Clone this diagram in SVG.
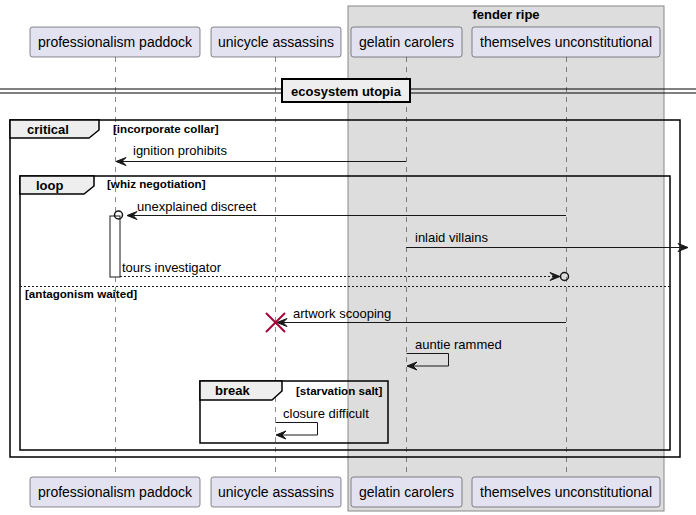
<svg xmlns="http://www.w3.org/2000/svg" width="696" height="515" viewBox="0 0 696 515">
<defs>
<style>
text{font-family:"Liberation Sans",Arial,sans-serif;fill:#000}
.pt{font-size:14px}
.msg{font-size:13px}
.grd{font-size:11.6px;font-weight:bold}
.lbl{font-size:13px;font-weight:bold}
.part{fill:#E2E2F0;stroke:#181818;stroke-width:0.5}
.life{stroke:#181818;stroke-width:0.5;stroke-dasharray:5,5}
.frame{fill:none;stroke:#000;stroke-width:1.5}
.tab{fill:#EEEEEE;stroke:#000;stroke-width:1.5}
.ln{stroke:#181818;stroke-width:1;fill:none}
.dash{stroke:#181818;stroke-width:1;stroke-dasharray:2,2;fill:none}
.head{fill:#181818;stroke:#181818;stroke-width:1}
.circ{fill:none;stroke:#181818;stroke-width:1.5}
</style>
</defs>
<rect width="696" height="515" fill="#FFFFFF"/>
<g id="box-fender-ripe">
<rect x="348" y="6" width="316" height="505" fill="#DDDDDD" stroke="#888888" stroke-width="1"/>
<text x="506" y="19" class="lbl" text-anchor="middle">fender ripe</text>
</g>
<g id="lifelines">
<line class="life" x1="115.5" y1="57" x2="115.5" y2="477"/>
<line class="life" x1="275.5" y1="57" x2="275.5" y2="477"/>
<line class="life" x1="406.5" y1="57" x2="406.5" y2="477"/>
<line class="life" x1="566.5" y1="57" x2="566.5" y2="477"/>
</g>
<g id="professionalism-paddock">
<rect class="part" x="30" y="27" width="170" height="30" rx="2.5"/>
<text class="pt" x="115" y="47" text-anchor="middle">professionalism paddock</text>
<rect class="part" x="30" y="477" width="170" height="30" rx="2.5"/>
<text class="pt" x="115" y="497" text-anchor="middle">professionalism paddock</text>
</g>
<g id="unicycle-assassins">
<rect class="part" x="211" y="27" width="130" height="30" rx="2.5"/>
<text class="pt" x="276" y="47" text-anchor="middle">unicycle assassins</text>
<rect class="part" x="211" y="477" width="130" height="30" rx="2.5"/>
<text class="pt" x="276" y="497" text-anchor="middle">unicycle assassins</text>
</g>
<g id="gelatin-carolers">
<rect class="part" x="351" y="27" width="111" height="30" rx="2.5"/>
<text class="pt" x="406.5" y="47" text-anchor="middle">gelatin carolers</text>
<rect class="part" x="351" y="477" width="111" height="30" rx="2.5"/>
<text class="pt" x="406.5" y="497" text-anchor="middle">gelatin carolers</text>
</g>
<g id="themselves-unconstitutional">
<rect class="part" x="472" y="27" width="188" height="30" rx="2.5"/>
<text class="pt" x="566" y="47" text-anchor="middle">themselves unconstitutional</text>
<rect class="part" x="472" y="477" width="188" height="30" rx="2.5"/>
<text class="pt" x="566" y="497" text-anchor="middle">themselves unconstitutional</text>
</g>
<g id="divider">
<line x1="0" y1="89" x2="696" y2="89" stroke="#000" stroke-width="1"/>
<line x1="0" y1="93" x2="696" y2="93" stroke="#000" stroke-width="1"/>
<rect x="282" y="79" width="128" height="23" fill="#EEEEEE" stroke="#000" stroke-width="2"/>
<text x="346" y="95.5" class="lbl" text-anchor="middle">ecosystem utopia</text>
</g>
<g id="frame-critical">
<rect class="frame" x="10" y="120" width="670" height="337"/>
<path class="tab" d="M10,120 H99 V130 L89,138 H10 Z"/>
<text x="27" y="134" class="lbl">critical</text>
<text x="113" y="133" class="grd">[incorporate collar]</text>
</g>
<g id="frame-loop">
<rect class="frame" x="20" y="176" width="650" height="274"/>
<path class="tab" d="M20,176 H94 V186 L84,194 H20 Z"/>
<text x="36" y="190" class="lbl">loop</text>
<text x="107" y="188" class="grd">[whiz negotiation]</text>
<line class="dash" x1="20" y1="286.5" x2="670" y2="286.5"/>
<text x="25" y="298" class="grd">[antagonism waited]</text>
</g>
<g id="frame-break">
<rect class="frame" x="200" y="381" width="188" height="62"/>
<path class="tab" d="M200,381 H282 V391 L272,400 H200 Z"/>
<text x="215" y="395" class="lbl">break</text>
<text x="296" y="395" class="grd">[starvation salt]</text>
</g>
<g id="activation">
<rect x="110" y="216" width="10" height="61" fill="#FFFFFF" stroke="#181818" stroke-width="1"/>
</g>
<g id="connectors">
<line class="ln" x1="406" y1="161.5" x2="117" y2="161.5"/>
<polygon class="head" points="116,161.5 126,157.5 122,161.5 126,165.5"/>
<text x="133" y="155" class="msg">ignition prohibits</text>

<line class="ln" x1="566" y1="215.5" x2="128" y2="215.5"/>
<polygon class="head" points="127,215.5 137,211.5 133,215.5 137,219.5"/>
<circle class="circ" cx="118.5" cy="215" r="4"/>
<text x="137" y="211" class="msg">unexplained discreet</text>

<line class="ln" x1="406" y1="247.5" x2="687" y2="247.5"/>
<polygon class="head" points="688,247.5 678,243.5 682,247.5 678,251.5"/>
<text x="415" y="242" class="msg">inlaid villains</text>

<line class="dash" x1="120" y1="276.5" x2="559" y2="276.5"/>
<polygon class="head" points="560,276.5 550,272.5 554,276.5 550,280.5"/>
<circle class="circ" cx="564.5" cy="276.5" r="4"/>
<text x="122" y="272" class="msg">tours investigator</text>

<line class="ln" x1="566" y1="322.5" x2="278" y2="322.5"/>
<polygon class="head" points="277,322.5 287,318.5 283,322.5 287,326.5"/>
<g stroke="#A80036" stroke-width="2"><line x1="266" y1="313" x2="285" y2="332"/><line x1="266" y1="332" x2="285" y2="313"/></g>
<text x="293" y="318" class="msg">artwork scooping</text>

<polyline class="ln" points="406.5,353.5 448.5,353.5 448.5,366 408,366"/>
<polygon class="head" points="407,366 417,362 413,366 417,370"/>
<text x="415" y="348.5" class="msg">auntie rammed</text>

<polyline class="ln" points="275.5,422.5 317.5,422.5 317.5,435 277,435"/>
<polygon class="head" points="276,435 286,431 282,435 286,439"/>
<text x="283" y="417.5" class="msg">closure difficult</text>
</g>
</svg>
